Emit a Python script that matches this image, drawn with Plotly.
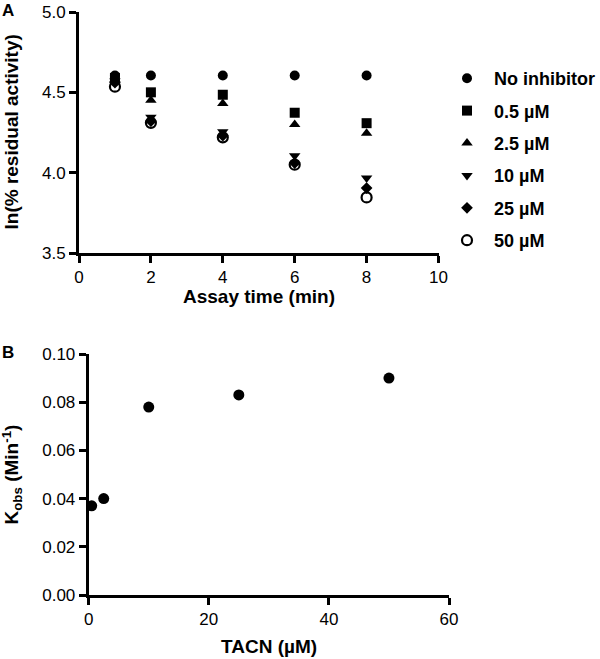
import plotly.graph_objects as go

W, H = 600, 659

# Panel A data
times = [1, 2, 4, 6, 8]
series_names = ["No inhibitor", "0.5 µM", "2.5 µM", "10 µM", "25 µM", "50 µM"]
series_values = [
    [4.605, 4.605, 4.605, 4.605, 4.605],
    [4.59, 4.50, 4.485, 4.373, 4.308],
    [4.58, 4.45, 4.43, 4.30, 4.246],
    [4.57, 4.345, 4.255, 4.105, 3.967],
    [4.56, 4.32, 4.23, 4.06, 3.904],
    [4.535, 4.31, 4.22, 4.05, 3.846],
]
symbols = ["circle", "square", "triangle-up", "triangle-down", "diamond", "circle-open"]
sizes = [10, 10, 10, 10, 9, 10]

# Panel B data
tacn = [0.5, 2.5, 10, 25, 50]
kobs = [0.037, 0.040, 0.078, 0.083, 0.090]

FONT = "Liberation Sans, Arial, sans-serif"

def px_x(p):
    return p / W

def px_y(p):
    return 1 - p / H

fig = go.Figure()
for i, (name, vals) in enumerate(zip(series_names, series_values)):
    fig.add_trace(go.Scatter(
        x=times, y=vals, mode="markers", name=name,
        legendgroup=str(i),
        marker=dict(symbol=symbols[i], size=sizes[i], color="black",
                    line=dict(color="black", width=2.2 if symbols[i] == "circle-open" else 0)),
        cliponaxis=False, xaxis="x", yaxis="y",
    ))

fig.add_trace(go.Scatter(
    x=tacn, y=kobs, mode="markers", showlegend=False,
    marker=dict(symbol="circle", size=11, color="black"),
    cliponaxis=False, xaxis="x2", yaxis="y2",
))

axis_common = dict(
    showline=True, linecolor="black", linewidth=3,
    ticks="outside", tickcolor="black", tickwidth=3, ticklen=7,
    showgrid=False, zeroline=False, automargin=False,
    tickfont=dict(family=FONT, size=17, color="black"),
)

fig.update_layout(
    width=W, height=H,
    margin=dict(l=0, r=0, t=0, b=0, pad=0, autoexpand=False),
    paper_bgcolor="white", plot_bgcolor="white",
    font=dict(family=FONT, color="black"),
    xaxis=dict(domain=[px_x(79), px_x(438.5)], range=[0, 10], dtick=2,
               anchor="y", **axis_common),
    yaxis=dict(domain=[px_y(253), px_y(12)], range=[3.5, 5.0], dtick=0.5,
               tickformat=".1f", anchor="x", **axis_common),
    xaxis2=dict(domain=[px_x(88.7), px_x(449)], range=[0, 60], dtick=20,
                anchor="y2", **axis_common),
    yaxis2=dict(domain=[px_y(595), px_y(354)], range=[0, 0.10], dtick=0.02,
                tickformat=".2f", anchor="x2", **axis_common),
    legend=dict(
        x=px_x(440), y=px_y(60), xanchor="left", yanchor="top",
        font=dict(family=FONT, size=18, color="black", weight="bold"),
        tracegroupgap=6, traceorder="grouped", itemwidth=44,
        bgcolor="rgba(0,0,0,0)",
    ),
    showlegend=True,
)

ann = [
    dict(text="<b>Assay time (min)</b>", x=px_x(258.5), y=px_y(297), size=19, angle=0),
    dict(text="<b>ln(% residual activity)</b>", x=px_x(11), y=px_y(132.5), size=19, angle=-90),
    dict(text="<b>TACN (µM)</b>", x=px_x(269), y=px_y(646), size=19, angle=0),
    dict(text="<b>K<sub>obs</sub> (Min<sup>-1</sup>)</b>", x=px_x(12), y=px_y(474.5), size=19, angle=-90),
    dict(text="<b>A</b>", x=px_x(7.5), y=px_y(10.5), size=17, angle=0),
    dict(text="<b>B</b>", x=px_x(7.5), y=px_y(352.5), size=17, angle=0),
]
for a in ann:
    fig.add_annotation(text=a["text"], x=a["x"], y=a["y"], xref="paper", yref="paper",
                       xanchor="center", yanchor="middle", showarrow=False,
                       textangle=a["angle"],
                       font=dict(family=FONT, size=a["size"], color="black"))

fig.write_html("out.html",
               config={"displayModeBar": False},
               post_script="document.body.style.margin='0';document.body.style.overflow='hidden';")
